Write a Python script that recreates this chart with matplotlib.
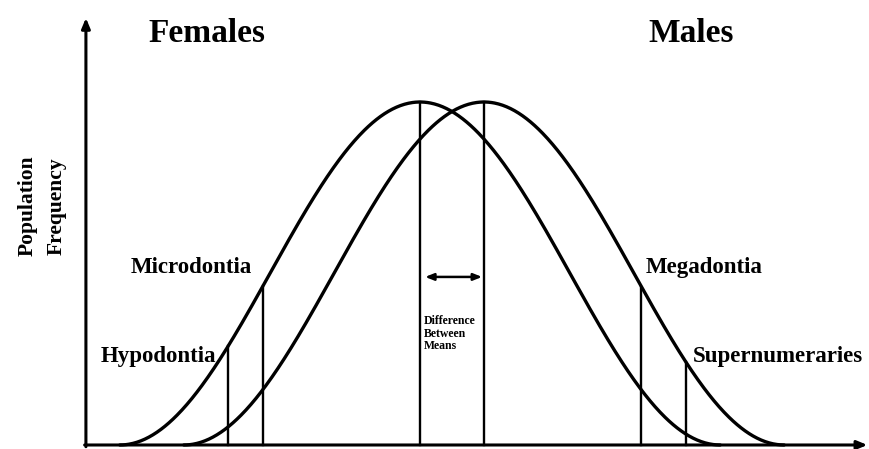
import numpy as np
import matplotlib
matplotlib.use("Agg")
import matplotlib.pyplot as plt

# ---- data (abstract units: tooth size, relative frequency) ----
group_names = ["Females", "Males"]
group_means = [0.0, 1.0]          # mean tooth size of each group
spread = 4.69                      # half-width of each frequency curve
peak_freq = 1.0

threshold_labels = ["Hypodontia", "Microdontia", "Megadontia", "Supernumeraries"]
threshold_x = [-3.0, -2.45, 3.46, 4.15]
threshold_group = [0, 0, 1, 1]     # which curve each threshold line reaches
diff_label = "Difference\nBetween\nMeans"
y_label_lines = ["Population", "Frequency"]

FONT = ["Liberation Serif", "DejaVu Serif"]


def freq(x, mu):
    d = np.clip((x - mu) / spread, -1, 1)
    return peak_freq * (1 + np.cos(np.pi * d)) / 2


fig = plt.figure(figsize=(8.70, 4.49), dpi=100)
ax = fig.add_axes([0, 0, 1, 1])
ax.set_xlim(-6.5625, 7.03125)
ax.set_ylim(-0.0117, 1.2974)
ax.axis("off")

x_axis_start, x_axis_end = -5.22, 6.99
y_axis_top = 1.245

# axes with arrows
ax.annotate("", xy=(x_axis_end, 0), xytext=(x_axis_start - 0.02, 0),
            arrowprops=dict(arrowstyle="-|>,head_length=0.6,head_width=0.25",
                            lw=2.2, color="black", shrinkA=0, shrinkB=0))
ax.annotate("", xy=(x_axis_start, y_axis_top), xytext=(x_axis_start, -0.005),
            arrowprops=dict(arrowstyle="-|>,head_length=0.6,head_width=0.25",
                            lw=2.2, color="black", shrinkA=0, shrinkB=0))

# curves
for mu in group_means:
    xs = np.linspace(mu - spread, mu + spread, 600)
    ax.plot(xs, freq(xs, mu), color="black", lw=2.4, solid_capstyle="round")

# mean lines
for mu in group_means:
    ax.plot([mu, mu], [0, freq(mu, mu)], color="black", lw=1.7)

# threshold lines
for tx, g in zip(threshold_x, threshold_group):
    ax.plot([tx, tx], [0, freq(tx, group_means[g])], color="black", lw=1.7)

# difference arrow
arrow_y = 0.49
ax.annotate("", xy=(group_means[1] - 0.03, arrow_y), xytext=(group_means[0] + 0.08, arrow_y),
            arrowprops=dict(arrowstyle="<|-|>,head_length=0.5,head_width=0.2",
                            lw=1.8, color="black", shrinkA=0, shrinkB=0))
ax.text(group_means[0] + 0.06, 0.378, diff_label, family=FONT, fontweight="bold",
        fontsize=8.5, ha="left", va="top", linespacing=1.05)

# group titles
ax.text(-3.33, 1.175, group_names[0], family=FONT, fontweight="bold",
        fontsize=24, ha="center", va="baseline")
ax.text(4.23, 1.175, group_names[1], family=FONT, fontweight="bold",
        fontsize=24, ha="center", va="baseline")

# threshold labels
ax.text(-2.625, 0.501, threshold_labels[1], family=FONT, fontweight="bold",
        fontsize=16.5, ha="right", va="baseline")
ax.text(-3.19, 0.242, threshold_labels[0], family=FONT, fontweight="bold",
        fontsize=16.5, ha="right", va="baseline")
ax.text(3.52, 0.501, threshold_labels[2], family=FONT, fontweight="bold",
        fontsize=16.5, ha="left", va="baseline")
ax.text(4.27, 0.242, threshold_labels[3], family=FONT, fontweight="bold",
        fontsize=16.5, ha="left", va="baseline")

# y label
ax.text(-6.13, 0.697, y_label_lines[0], family=FONT, fontweight="bold",
        fontsize=15.5, rotation=90, ha="center", va="center")
ax.text(-5.67, 0.697, y_label_lines[1], family=FONT, fontweight="bold",
        fontsize=15.5, rotation=90, ha="center", va="center")

fig.savefig("out.png", dpi=100)
